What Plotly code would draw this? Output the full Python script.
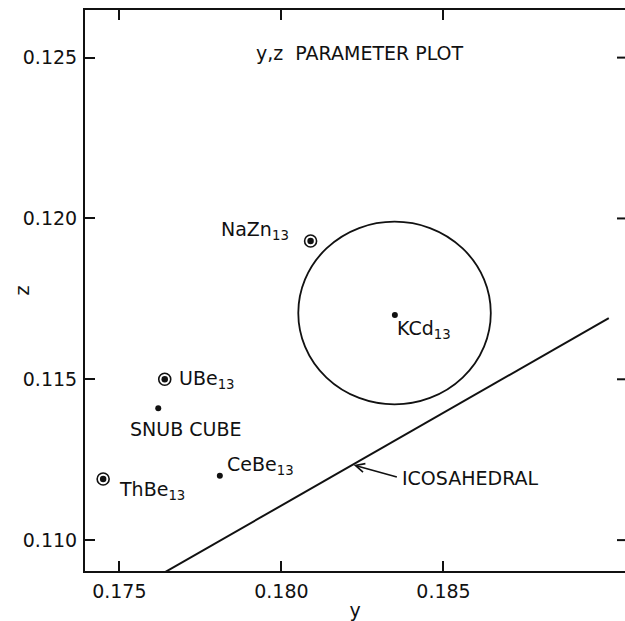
import numpy as np
import plotly.graph_objects as go

# ---- data ----
ring_names = ["NaZn<sub>13</sub>", "UBe<sub>13</sub>", "ThBe<sub>13</sub>"]
ring_y = [0.1809, 0.1764, 0.1745]
ring_z = [0.1193, 0.1150, 0.1119]

dot_names = ["KCd<sub>13</sub>", "SNUB CUBE", "CeBe<sub>13</sub>"]
dot_y = [0.1835, 0.1762, 0.1781]
dot_z = [0.1170, 0.1141, 0.1120]

ico_y = [0.1764, 0.1901]
ico_z = [0.1090, 0.1169]
ico_label = "ICOSAHEDRAL"
ico_arrow_y = 0.1822

circle_center = [0.18349, 0.11706]
circle_radius = [0.00297, 0.00284]

title_text = "y,z  PARAMETER PLOT"
x_title = "y"
y_title = "z"
x_ticks = [0.175, 0.180, 0.185]
x_tick_labels = ["0.175", "0.180", "0.185"]
y_ticks = [0.110, 0.115, 0.120, 0.125]
y_tick_labels = ["0.110", "0.115", "0.120", "0.125"]
x_range = [0.17394, 0.19060]
y_range = [0.10904, 0.12648]

FONT = "DejaVu Sans"
INK = "#111111"
LBL = 19

fig = go.Figure()

# icosahedral line
fig.add_trace(go.Scatter(x=ico_y, y=ico_z, mode="lines",
                         line=dict(color=INK, width=2), hoverinfo="skip"))

# circled points: ring + centre dot
fig.add_trace(go.Scatter(x=ring_y, y=ring_z, mode="markers",
                         marker=dict(size=12, color="white",
                                     line=dict(color=INK, width=1.6))))
fig.add_trace(go.Scatter(x=ring_y, y=ring_z, mode="markers",
                         marker=dict(size=6.5, color=INK)))
# plain dots
fig.add_trace(go.Scatter(x=dot_y, y=dot_z, mode="markers",
                         marker=dict(size=6, color=INK)))

# circle around KCd13
fig.add_shape(type="circle", xref="x", yref="y",
              x0=circle_center[0] - circle_radius[0], x1=circle_center[0] + circle_radius[0],
              y0=circle_center[1] - circle_radius[1], y1=circle_center[1] + circle_radius[1],
              line=dict(color=INK, width=1.8))

# short tick marks on the right-hand edge (the right frame line is cropped off)
for t in y_ticks:
    fig.add_shape(type="line", xref="paper", xsizemode="pixel", xanchor=1,
                  x0=-8, x1=0, yref="y", y0=t, y1=t,
                  line=dict(color=INK, width=2))

# labels (offsets in pixels)
ring_offsets = [(-20, 10, "right"), (12, 0, "left"), (14, -11, "left")]
dot_offsets = [(0, -15, "left"), (-30, -21, "left"), (5, 10, "left")]
for names, xs, zs, offs in [(ring_names, ring_y, ring_z, ring_offsets),
                            (dot_names, dot_y, dot_z, dot_offsets)]:
    for n, xv, zv, (dx, dy, anc) in zip(names, xs, zs, offs):
        fig.add_annotation(x=xv, y=zv, text=n, showarrow=False,
                           xanchor=anc, yanchor="middle", xshift=dx, yshift=dy,
                           font=dict(family=FONT, size=LBL, color=INK))

# icosahedral arrow label
arrow_z = float(np.interp(ico_arrow_y, ico_y, ico_z))
fig.add_annotation(x=ico_arrow_y, y=arrow_z, text=ico_label, showarrow=True,
                   ax=47, ay=13, xanchor="left", yanchor="middle",
                   arrowhead=5, arrowsize=1.1, arrowwidth=1.6, arrowcolor=INK,
                   standoff=1, startstandoff=3,
                   font=dict(family=FONT, size=LBL, color=INK))

# title inside plot
fig.add_annotation(xref="paper", yref="paper", x=0.51, y=0.923, text=title_text,
                   showarrow=False, xanchor="center", yanchor="middle",
                   font=dict(family=FONT, size=LBL, color=INK))

# y-axis title ("z"), rotated, placed just left of the tick labels
fig.add_annotation(xref="paper", yref="paper", x=0, y=0.5, xshift=-64,
                   text=y_title, textangle=-90, showarrow=False,
                   xanchor="center", yanchor="middle",
                   font=dict(family=FONT, size=19, color=INK))

fig.update_layout(
    width=625, height=621,
    margin=dict(l=85, r=0, t=10, b=50),
    paper_bgcolor="white", plot_bgcolor="white",
    showlegend=False,
    font=dict(family=FONT, size=19, color=INK),
    xaxis=dict(range=x_range, tickvals=x_ticks, ticktext=x_tick_labels,
               ticks="inside", ticklen=10, tickwidth=1.6, tickcolor=INK,
               showline=True, linecolor=INK, linewidth=2, mirror="ticks",
               showgrid=False, zeroline=False, ticklabelstandoff=2,
               automargin=False,
               title=dict(text=x_title, standoff=4, font=dict(size=19))),
    yaxis=dict(range=y_range, tickvals=y_ticks, ticktext=y_tick_labels,
               ticks="inside", ticklen=10, tickwidth=1.6, tickcolor=INK,
               showline=True, linecolor=INK, linewidth=2,
               showgrid=False, zeroline=False, ticklabelstandoff=2,
               automargin=False),
)

# remove the browser's default 8px body margin so the figure fills the window
fig.write_html("out.html",
               config={"displayModeBar": False},
               post_script="document.body.style.margin='0px';"
                           "document.body.style.overflow='hidden';")
